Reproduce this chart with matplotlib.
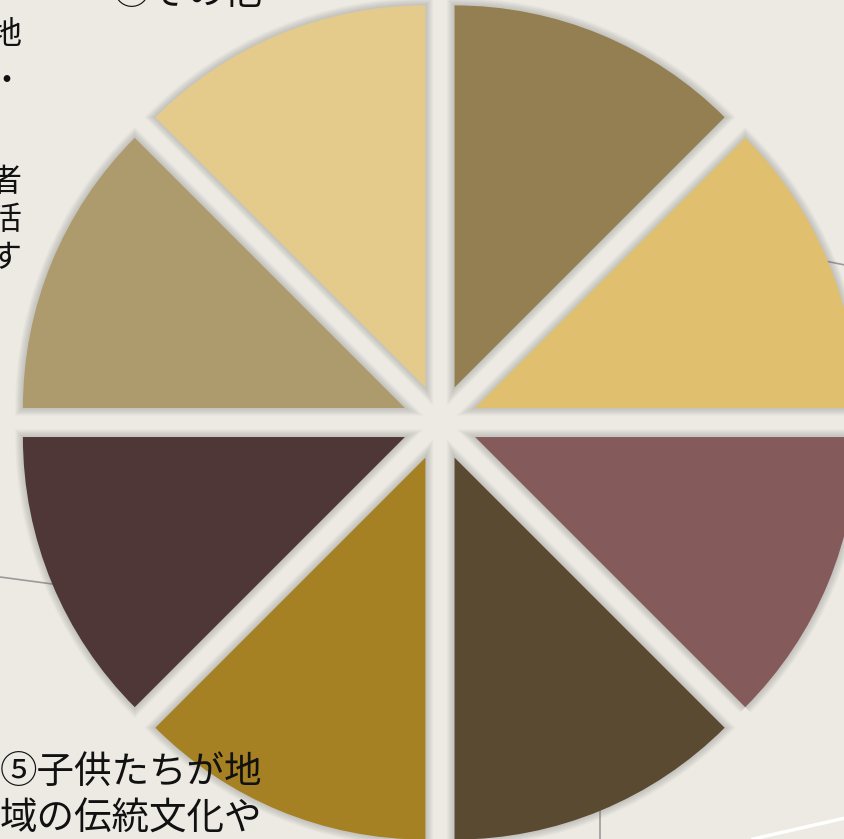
import matplotlib
matplotlib.use("Agg")
import matplotlib.pyplot as plt

# ==========================================
# 8 等分の円グラフ（切り出し）
# ==========================================
plt.rcParams['font.family'] = ['Noto Sans CJK JP', 'DejaVu Sans']

# 12時から時計回り
slice_values = [1, 1, 1, 1, 1, 1, 1, 1]
slice_colors = ['#937F52', '#E0BF6E', '#845A5B', '#5A4A32',
                '#A68124', '#4F3637', '#AD9A6D', '#E4CB8C']

# 画面外にはみ出した説明文
bottom_lines = ['⑤子供たちが地', '域の伝統文化や']
top_label = '⑧その他'
left_chars = ['地', '・', '者', '活', 'す']

W, H = 845, 839
BG = '#ECEAE3'

fig = plt.figure(figsize=(W / 100, H / 100), dpi=100)
fig.patch.set_facecolor(BG)
ax = fig.add_axes([0, 0, 1, 1])
ax.set_facecolor(BG)

def py(y):
    # ピクセル座標(上から)→データ座標
    return H - y

center = (440, py(422.5))
radius = 382
# matplotlib の explode はデータ単位でずらす
explode = [38] * len(slice_values)

# 背景の引き出し線
ax.plot([0, 60], [py(577), py(585)], color='#9A9A9A', lw=1.2, zorder=0)
ax.plot([800, 845], [py(256), py(265)], color='#9A9A9A', lw=1.2, zorder=0)
ax.plot([600, 600], [py(780), py(839)], color='#9A9A9A', lw=1.2, zorder=0)
ax.plot([753, 845], [py(839), py(818)], color='white', lw=2.5, zorder=0)

# ぼかし影（薄い線を重ねてぼかす）
for lw in [11, 9.5, 8, 6.5, 5, 3.5, 2]:
    ax.pie(slice_values, explode=explode, center=center, radius=radius,
           startangle=90, counterclock=False, frame=True,
           wedgeprops=dict(facecolor='none', edgecolor=(0.4, 0.4, 0.4, 0.045),
                           linewidth=lw, zorder=1))

ax.pie(slice_values, colors=slice_colors, explode=explode, center=center,
       radius=radius, startangle=90, counterclock=False, frame=True,
       wedgeprops=dict(linewidth=0, zorder=2))

ax.set_xlim(0, W)
ax.set_ylim(0, H)
ax.set_aspect('equal')
ax.axis('off')

fs = 27
for i, line in enumerate(bottom_lines):
    ax.text(0, py(772 + 46 * i), line, fontsize=fs, color='#111111',
            ha='left', va='center', zorder=5)

ax.text(113, py(4), top_label, fontsize=fs, color='#111111',
        ha='left', va='baseline', zorder=5)

for ch, y in zip(left_chars, [35, 82, 182, 220, 258]):
    ax.text(22, py(y), ch, fontsize=23, color='#111111',
            ha='right', va='center', zorder=5)

fig.savefig('out.png', dpi=100, facecolor=BG)
